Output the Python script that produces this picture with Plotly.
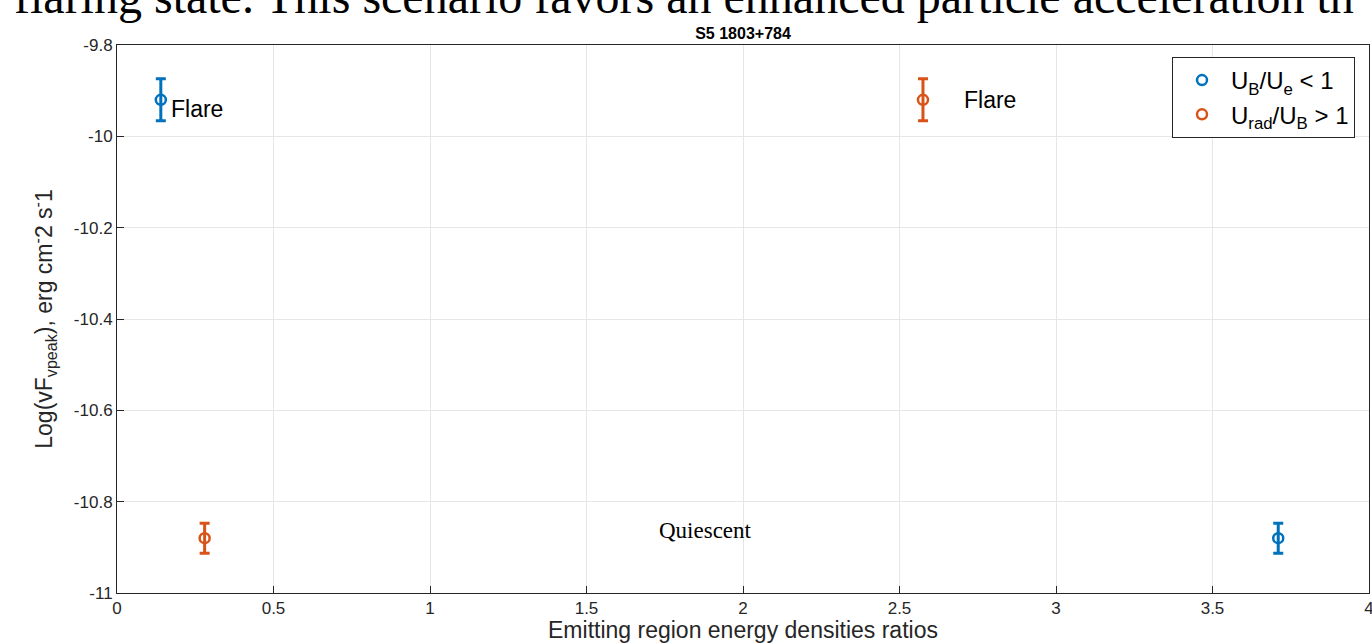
import plotly.graph_objects as go

# Data
blue_x = [0.14, 3.71]
blue_y = [-9.92, -10.88]
blue_err = [0.046, 0.033]
orange_x = [2.575, 0.28]
orange_y = [-9.92, -10.88]
orange_err = [0.046, 0.033]

blue_name = "U<sub>B</sub>/U<sub>e</sub> < 1"
orange_name = "U<sub>rad</sub>/U<sub>B</sub> > 1"

x_ticks = [0, 0.5, 1, 1.5, 2, 2.5, 3, 3.5, 4]
x_ticktext = ["0", "0.5", "1", "1.5", "2", "2.5", "3", "3.5", "4"]
y_ticks = [-11, -10.8, -10.6, -10.4, -10.2, -10, -9.8]
y_ticktext = ["-11", "-10.8", "-10.6", "-10.4", "-10.2", "-10", "-9.8"]

BLUE = "#0072BD"
ORANGE = "#D95319"
SANS = "Liberation Sans, Arial"
SERIF = "Liberation Serif, Times New Roman"

fig = go.Figure()
for xs, ys, es, col, nm in [(blue_x, blue_y, blue_err, BLUE, blue_name),
                            (orange_x, orange_y, orange_err, ORANGE, orange_name)]:
    fig.add_trace(go.Scatter(
        x=xs, y=ys, mode="markers", name=nm,
        marker=dict(symbol="circle-open", size=10, color=col, line=dict(width=2.5, color=col)),
        error_y=dict(type="data", array=es, visible=True, color=col, thickness=3, width=5),
    ))

fig.add_annotation(x=0.166, y=-9.94, xref="x", yref="y", text="Flare", showarrow=False,
                   xanchor="left", yanchor="middle",
                   font=dict(family=SANS, size=23, color="#000"))
fig.add_annotation(x=2.70, y=-9.92, xref="x", yref="y", text="Flare", showarrow=False,
                   xanchor="left", yanchor="middle",
                   font=dict(family=SANS, size=23, color="#000"))
fig.add_annotation(x=1.725, y=-10.864, xref="x", yref="y", text="Quiescent", showarrow=False,
                   xanchor="left", yanchor="middle",
                   font=dict(family=SERIF, size=23, color="#000"))

# cropped caption text at top of screenshot
fig.add_annotation(x=(12 - 117) / 1252, y=1.0886, xref="paper", yref="paper",
                   text="flaring state. This scenario favors an enhanced particle acceleration th",
                   showarrow=False, xanchor="left", yanchor="middle",
                   font=dict(family=SERIF, size=48, color="#000"))

axis_common = dict(showline=True, linecolor="#262626", linewidth=1, mirror=True,
                   ticks="inside", ticklen=7, tickcolor="#262626", automargin=False,
                   ticklabeloverflow="allow",
                   showgrid=True, gridcolor="#E6E6E6", gridwidth=1, zeroline=False,
                   tickfont=dict(family=SANS, size=17, color="#262626"))

fig.update_layout(
    width=1372, height=643,
    margin=dict(l=117, r=3, t=45, b=50),
    paper_bgcolor="white", plot_bgcolor="white",
    title=dict(text="<b>S5 1803+784</b>", x=743 / 1372, xanchor="center", y=1 - 33 / 643,
               yanchor="middle", yref="container",
               font=dict(family=SANS, size=16, color="#000")),
    xaxis=dict(range=[0, 4], tickvals=x_ticks, ticktext=x_ticktext,
               title=dict(text="Emitting region energy densities ratios", standoff=13,
                          font=dict(family=SANS, size=23, color="#262626")),
               **axis_common),
    yaxis=dict(range=[-11, -9.8], tickvals=y_ticks, ticktext=y_ticktext,
               title=dict(text="Log(vF<sub>vpeak</sub>), erg cm<sup>-</sup>2 s<sup>-</sup>1", standoff=14,
                          font=dict(family=SANS, size=23, color="#262626")),
               **axis_common),
    legend=dict(x=(1172 - 117) / 1252, y=(593 - 57) / 548, xanchor="left", yanchor="top",
                bgcolor="white", bordercolor="#262626", borderwidth=1,
                font=dict(family=SANS, size=24, color="#000"),
                itemwidth=48, tracegroupgap=0),
    showlegend=True,
)

fig.write_html("out.html", config={"displayModeBar": False},
               post_script="document.body.style.margin='0';document.body.style.overflow='hidden';")
